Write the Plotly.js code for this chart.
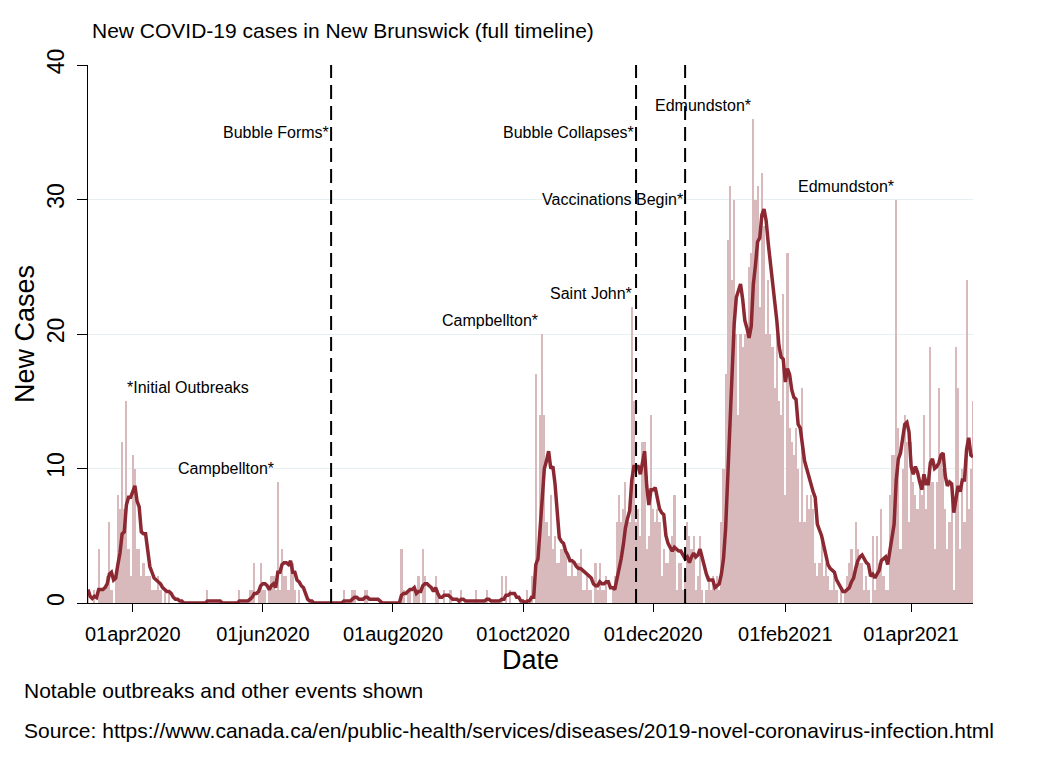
<!DOCTYPE html>
<html>
<head>
<meta charset="utf-8">
<script src="https://cdn.plot.ly/plotly-3.0.1.min.js"></script>
<style>
html,body{margin:0;padding:0;background:#ffffff;}
#chart{width:1050px;height:764px;}
</style>
</head>
<body>
<div id="chart"></div>
<script>
// ---- Data: daily new cases, New Brunswick, from 11 Mar 2020 ----
const firstDay = '2020-03-11';
const mar2020 = [1,0,0,1,0,4,1,1,1,2,6,1,0,2,8,7,12,7,15,4,2];
const apr2020 = [11,10,4,4,2,3,2,2,2,1,1,1,2,1,0,1,0,1,0,0,0,0,0,0,0,0,0,0,0,0];
const may2020 = [0,0,0,0,0,1,0,0,0,0,0,0,0,0,0,0,0,0,0,0,1,0,0,0,0,1,1,3,0,1,3];
const jun2020 = [1,1,0,1,2,2,1,9,1,4,2,2,1,3,3,1,0,1,0,0,0,0,0,0,0,0,0,0,0,0];
const jul2020 = [0,0,0,0,0,0,0,0,1,0,0,0,1,1,0,0,0,0,1,1,0,0,0,0,0,0,0,0,0,0,0];
const aug2020 = [0,0,0,0,4,1,0,1,1,0,1,1,2,0,4,2,0,0,0,0,2,1,0,0,1,0,0,1,0,0,0];
const sep2020 = [0,1,0,0,0,0,0,0,1,0,0,0,0,1,0,0,0,0,0,0,2,0,2,0,1,0,0,0,0,0];
const oct2020 = [0,0,1,0,2,0,17,3,14,20,14,6,5,8,4,5,3,3,4,4,4,2,2,3,2,2,3,4,1,1,2];
const nov2020 = [1,1,0,3,1,3,1,1,2,0,0,1,2,6,8,6,7,9,6,6,22,15,6,7,5,12,12,4,5,14];
const dec2020 = [7,6,7,6,2,4,3,3,4,5,8,1,3,3,1,2,6,5,4,5,1,2,5,1,0,1,2,1,2,1,2];
const jan2021 = [1,6,10,17,27,31,24,30,20,14,20,19,20,20,25,26,36,30,31,22,32,28,20,24,20,19,16,20,15,14,23];
const feb2021 = [8,26,13,12,11,13,10,6,16,6,8,7,8,7,3,2,3,5,2,3,2,1,1,2,1,0,1,0];
const mar2021 = [1,2,3,4,2,6,4,3,3,1,2,1,0,5,1,5,3,7,2,1,1,8,11,11,30,13,4,10,14,12,6];
const apr2021 = [12,9,8,7,9,8,14,7,9,19,9,4,9,16,11,10,7,4,6,8,1,19,16,4,10,6,24,7,10,15];

const tickDates  = ['2020-04-01','2020-06-01','2020-08-01','2020-10-01','2020-12-01','2021-02-01','2021-04-01'];
const tickLabels = ['01apr2020','01jun2020','01aug2020','01oct2020','01dec2020','01feb2021','01apr2021'];

// Events (dashed vertical lines)
const eventDates = ['2020-07-03','2020-11-23','2020-12-16'];

// Text notes on the chart
const noteTexts  = ['*Initial Outbreaks','Campbellton*','Bubble Forms*','Campbellton*','Saint John*','Bubble Collapses*','Vaccinations Begin*','Edmundston*','Edmundston*'];
const noteDates  = ['2020-03-28 12:00','2020-06-07','2020-07-03','2020-10-09','2020-11-22','2020-11-23','2020-12-16','2021-01-17','2021-03-25'];
const noteValues = [16,10,35,21,23,35,30,37,31];
const noteSides  = ['left','right','right','right','right','right','right','right','right'];

// ---- Build series ----
const cases = [].concat(mar2020,apr2020,may2020,jun2020,jul2020,aug2020,sep2020,oct2020,nov2020,dec2020,jan2021,feb2021,mar2021,apr2021);
function dayToDate(i){
  const d = new Date(firstDay + 'T00:00:00Z');
  d.setUTCDate(d.getUTCDate() + i);
  return d.toISOString().slice(0,10);
}
const dates = cases.map((_, i) => dayToDate(i));
// 7-day trailing moving average (as in the original chart)
const movingAvg = cases.map((_, i) => {
  const w = cases.slice(Math.max(0, i - 6), i + 1);
  return w.reduce((a, b) => a + b, 0) / w.length;
});

const FONT = 'Liberation Sans, Arial, Helvetica, sans-serif';

const traces = [
  {
    type: 'bar', x: dates, y: cases,
    marker: {color: 'rgb(216,186,189)', line: {width: 0}},
    hoverinfo: 'skip'
  },
  {
    type: 'scatter', mode: 'lines', x: dates, y: movingAvg,
    line: {color: 'rgb(140,40,50)', width: 3.5},
    hoverinfo: 'skip'
  }
];

const annotations = noteTexts.map((t, i) => ({
  x: noteDates[i], y: noteValues[i], xref: 'x', yref: 'y',
  text: t, showarrow: false,
  xanchor: noteSides[i], yanchor: 'middle',
  font: {size: 16, color: '#000', family: FONT}
}));
annotations.push({
  x: (22 - 88) / 885, y: (603 - 690) / 538, xref: 'paper', yref: 'paper',
  text: 'Notable outbreaks and other events shown', showarrow: false,
  xanchor: 'left', yanchor: 'middle', font: {size: 21, color: '#000', family: FONT}
});
annotations.push({
  x: (22 - 88) / 885, y: (603 - 731) / 538, xref: 'paper', yref: 'paper',
  text: 'Source: https://www.canada.ca/en/public-health/services/diseases/2019-novel-coronavirus-infection.html',
  showarrow: false, xanchor: 'left', yanchor: 'middle',
  font: {size: 21, color: '#000', family: FONT}
});

const shapes = eventDates.map(d => ({
  type: 'line', xref: 'x', yref: 'paper', x0: d, x1: d, y0: 0, y1: 1,
  line: {color: '#000', width: 2, dash: '14px,7px'}
}));

const layout = {
  width: 1050, height: 764,
  margin: {l: 88, r: 77, t: 65, b: 161},
  paper_bgcolor: '#ffffff', plot_bgcolor: '#ffffff',
  font: {family: FONT, color: '#000'},
  showlegend: false,
  bargap: 0,
  title: {
    text: 'New COVID-19 cases in New Brunswick (full timeline)',
    font: {size: 21, family: FONT, color: '#000'},
    xref: 'container', x: 92 / 1050, xanchor: 'left',
    yref: 'container', y: 1 - 31 / 764, yanchor: 'middle'
  },
  xaxis: {
    type: 'date', range: ['2020-03-11', '2021-04-30'],
    tickmode: 'array', tickvals: tickDates, ticktext: tickLabels,
    ticks: 'outside', ticklen: 8, tickwidth: 1, tickcolor: '#000',
    showline: true, linecolor: '#000', linewidth: 1,
    showgrid: false, zeroline: false,
    tickfont: {size: 20, family: FONT, color: '#000'},
    ticklabelstandoff: 5,
    title: {text: 'Date', font: {size: 27, family: FONT, color: '#000'}, standoff: 0},
    automargin: false, fixedrange: true
  },
  yaxis: {
    range: [0, 40], tickmode: 'array', tickvals: [0, 10, 20, 30, 40],
    ticks: 'outside', ticklen: 10, tickwidth: 1, tickcolor: '#000',
    showline: true, linecolor: '#000', linewidth: 1,
    showgrid: true, gridcolor: '#e6eff1', gridwidth: 1, zeroline: false,
    tickangle: -90,
    tickfont: {size: 23, family: FONT, color: '#000'},
    ticklabelstandoff: 4,
    title: {text: 'New Cases', font: {size: 27, family: FONT, color: '#000'}, standoff: 0},
    automargin: false, fixedrange: true
  },
  shapes: shapes,
  annotations: annotations
};

Plotly.newPlot('chart', traces, layout, {staticPlot: true, displayModeBar: false});
</script>
</body>
</html>
